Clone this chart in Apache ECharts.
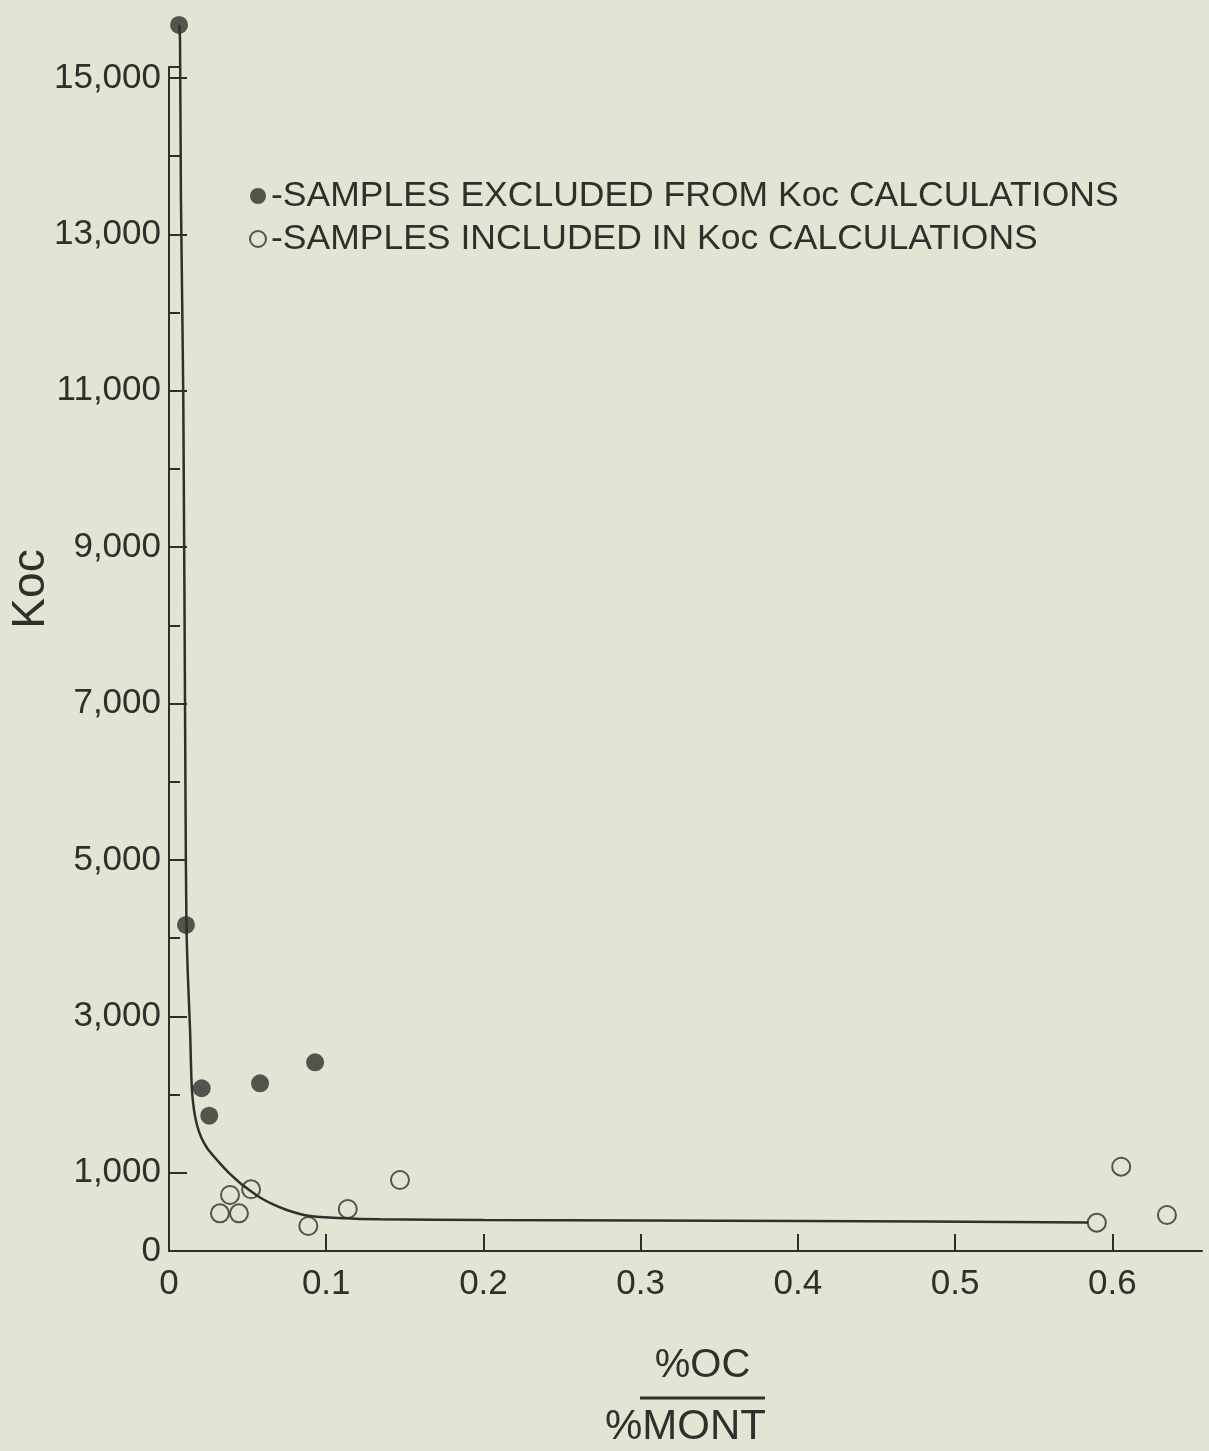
<!DOCTYPE html>
<html><head><meta charset="utf-8">
<script src="https://cdn.jsdelivr.net/npm/echarts@6/dist/echarts.min.js"></script>
<style>html,body{margin:0;padding:0;background:#e3e5d4}#chart{width:1209px;height:1451px}</style>
</head><body><div id="chart"></div>
<script>
// ---- data ----
const excludedX = [0.0064, 0.0108, 0.0208, 0.0256, 0.0579, 0.0929];
const excludedY = [15678, 4169, 2081, 1730, 2144, 2413];
const includedX = [0.0324, 0.0388, 0.0445, 0.0522, 0.0886, 0.1137, 0.1469, 0.5901, 0.6056, 0.6347];
const includedY = [482, 716, 482, 789, 320, 537, 908, 362, 1078, 460];
const curveX = [0.0064, 0.0070, 0.0076, 0.0091, 0.0105, 0.0111, 0.0121, 0.0134, 0.0139, 0.0146, 0.0159, 0.0178, 0.0204, 0.0242, 0.0286, 0.0324, 0.0388, 0.0452, 0.0515, 0.0579, 0.0662, 0.0749, 0.0821, 0.0897, 0.1107, 0.1342, 0.2000, 0.4014, 0.5846];
const curveY = [15678, 15486, 13440, 10882, 5767, 4169, 3465, 2826, 2442, 2059, 1803, 1611, 1458, 1317, 1208, 1121, 985, 870, 774, 684, 595, 524, 480, 448, 418, 405, 396, 384, 364];
const yLabelValues = [0, 1000, 3000, 5000, 7000, 9000, 11000, 13000, 15000];
const yMajorTicks = [1000, 3000, 5000, 7000, 9000, 11000, 13000, 15000];
const xLabelValues = [0, 0.1, 0.2, 0.3, 0.4, 0.5, 0.6];
const xTickValues = [0.1, 0.2, 0.3, 0.4, 0.5, 0.6];
const legendNames = ['-SAMPLES EXCLUDED FROM Koc CALCULATIONS', '-SAMPLES INCLUDED IN Koc CALCULATIONS'];
const yName = 'Koc';
const xNameTop = '%OC';
const xNameBottom = '%MONT';

const INK = '#2f302b';
const BG = '#e3e5d4';
const FONT = 'Liberation Sans';
const zip = (xs, ys) => xs.map((x, i) => [x, ys[i]]);

const chart = echarts.init(document.getElementById('chart'));
chart.setOption({
  backgroundColor: BG,
  animation: false,
  textStyle: { fontFamily: FONT, color: INK },
  grid: { left: 169, right: 7, top: 67, bottom: 200, containLabel: false, outerBoundsMode: 'none' },
  legend: {
    orient: 'vertical', left: 244, top: 172, itemGap: 5,
    icon: 'circle', itemWidth: 16, itemHeight: 16,
    textStyle: { fontFamily: FONT, fontSize: 35.5, color: INK, lineHeight: 38 },
    data: legendNames
  },
  xAxis: {
    type: 'value', min: 0, max: 0.657,
    splitLine: { show: false },
    axisLine: { lineStyle: { color: INK, width: 2 } },
    axisTick: { inside: true, length: 17, customValues: xTickValues, lineStyle: { color: INK, width: 2 } },
    axisLabel: { customValues: xLabelValues, margin: 16, fontSize: 35, color: INK, fontFamily: FONT,
      formatter: v => String(v) },
    name: '{s|}{a|' + xNameTop + '}\n{s|}{l|}\n{b|' + xNameBottom + '}',
    nameLocation: 'middle', nameGap: 95, nameMoveOverlap: false,
    nameTextStyle: {
      rich: {
        s: { width: 34, height: 10 },
        a: { fontSize: 40, lineHeight: 40, color: INK, fontFamily: FONT },
        l: { width: 125, height: 3, backgroundColor: INK, lineHeight: 24 },
        b: { fontSize: 42, lineHeight: 34, color: INK, fontFamily: FONT }
      }
    }
  },
  yAxis: [{
    type: 'value', min: 0, max: 15140,
    splitLine: { show: false },
    axisLine: { show: true, lineStyle: { color: INK, width: 2 } },
    axisTick: { inside: true, length: 18, customValues: yMajorTicks, lineStyle: { color: INK, width: 2 } },
    axisLabel: { customValues: yLabelValues, margin: 8, fontSize: 35, color: INK, fontFamily: FONT,
      formatter: v => v.toLocaleString('en-US') },
    name: yName, nameLocation: 'middle', nameRotate: 90, nameGap: 115, nameMoveOverlap: false,
    nameTextStyle: { fontSize: 46, color: INK, fontFamily: FONT, padding: [0, 0, 0, 140] }
  }, {
    type: 'value', min: 0, max: 15140, interval: 1000, position: 'left',
    splitLine: { show: false },
    axisLine: { show: false },
    axisTick: { show: true, inside: true, length: 11, lineStyle: { color: INK, width: 2 } },
    axisLabel: { show: false }
  }],
  series: [{
    type: 'line', name: 'curve', data: zip(curveX, curveY), showSymbol: false, symbol: 'none',
    smooth: 0.3, clip: false, z: 1,
    lineStyle: { color: INK, width: 2.5 }, silent: true
  }, {
    type: 'scatter', name: legendNames[0], data: zip(excludedX, excludedY), symbolSize: 18,
    clip: false, z: 3, itemStyle: { color: INK }
  }, {
    type: 'scatter', name: legendNames[1], data: zip(includedX, includedY), symbolSize: 18,
    clip: false, z: 3, itemStyle: { color: 'rgba(0,0,0,0)', borderColor: INK, borderWidth: 2 }
  }]
});
</script></body></html>
